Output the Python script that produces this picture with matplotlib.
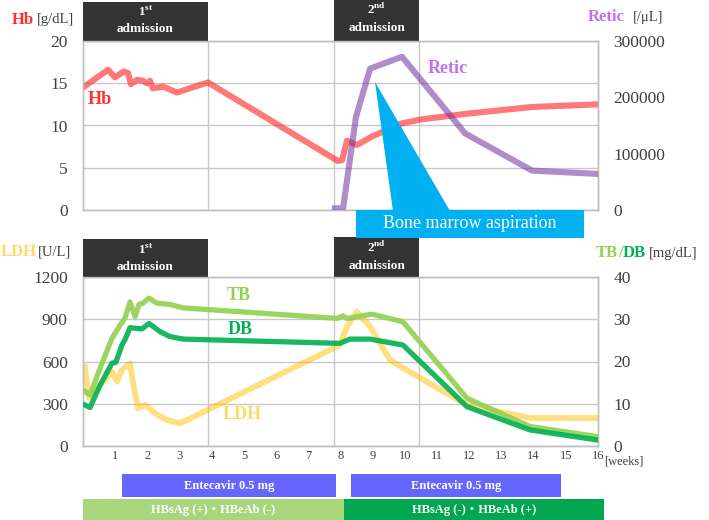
import matplotlib
matplotlib.use('Agg')
import matplotlib.pyplot as plt
from matplotlib.patches import Rectangle, Polygon
from matplotlib.transforms import blended_transform_factory

plt.rcParams['font.family'] = ['Liberation Serif', 'DejaVu Serif']
plt.rcParams['mathtext.fontset'] = 'custom'
plt.rcParams['mathtext.rm'] = 'Liberation Serif'
plt.rcParams['mathtext.bf'] = 'Liberation Serif:bold'

# ---------------- data (x in weeks) ----------------
hb_weeks = [0, 0.78, 0.99, 1.27, 1.40, 1.49, 1.68, 1.86, 1.99, 2.08, 2.17, 2.49, 2.92, 3.88,
            7.92, 8.05, 8.20, 8.51, 8.98, 9.85, 10.47, 11.93, 13.98, 16.0]
hb_values = [14.5, 16.6, 15.7, 16.4, 16.2, 14.9, 15.4, 15.3, 15.0, 15.3, 14.4, 14.6, 13.9, 15.1,
             5.8, 5.9, 8.2, 7.7, 8.7, 10.2, 10.7, 11.4, 12.2, 12.5]

retic_weeks = [7.83, 8.08, 8.48, 8.92, 9.91, 11.87, 13.95, 16.0]
retic_values = [3000, 3000, 165000, 251000, 272000, 136000, 70000, 64000]

tb_weeks = [0.06, 0.22, 0.53, 0.90, 1.15, 1.30, 1.46, 1.62, 1.74, 1.86, 2.05, 2.30, 2.70, 3.11,
            7.89, 8.08, 8.20, 8.98, 9.94, 11.93, 13.89, 16.0]
tb_values = [12.9, 12.1, 18.4, 25.5, 28.6, 30.2, 34.1, 30.6, 33.5, 33.8, 35.0, 33.8, 33.5, 32.7,
             30.2, 30.8, 30.2, 31.2, 29.4, 11.3, 4.6, 2.2]

db_weeks = [0.06, 0.22, 0.53, 0.90, 1.02, 1.21, 1.30, 1.46, 1.83, 2.05, 2.39, 2.70, 3.11,
            7.98, 8.29, 8.92, 9.94, 11.93, 13.89, 16.0]
db_values = [9.7, 9.1, 14.4, 19.6, 19.8, 23.9, 25.1, 28.0, 27.7, 29.0, 27.1, 25.9, 25.3,
             24.3, 25.3, 25.3, 23.9, 9.3, 3.8, 1.4]

ldh_weeks = [0.06, 0.19, 0.90, 1.06, 1.21, 1.46, 1.55, 1.71, 1.93, 2.24, 2.61, 3.01,
             7.98, 8.20, 8.51, 8.92, 9.54, 9.94, 11.93, 13.89, 16.0]
ldh_values = [563, 341, 528, 457, 540, 587, 457, 268, 291, 232, 185, 160,
              717, 847, 954, 847, 611, 554, 291, 199, 199]

admissions = [(0.0, 3.88, '1', 'st'), (7.80, 10.45, '2', 'nd')]
entecavir = [(1.21, 7.86), (8.32, 14.84)]
hbs_status = [(0.0, 8.10, 'HBsAg (+)・HBeAb (-)', '#A9D67C'),
              (8.10, 16.2, 'HBsAg (-)・HBeAb (+)', '#00A650')]
week_ticks = list(range(1, 17))
hb_ticks = [0, 5, 10, 15, 20]
retic_ticks = [0, 100000, 200000, 300000]
ldh_ticks = [0, 300, 600, 900, 1200]
tbdb_ticks = [0, 10, 20, 30, 40]

# ---------------- layout ----------------
W, H = 709, 520
fig = plt.figure(figsize=(W / 100, H / 100), dpi=100)


def fx(x):
    return x / W


def fy(y):
    return 1 - y / H


GRID = '#C8C8C8'
TXT = '#404040'

ax1 = fig.add_axes([fx(83), fy(210), (598 - 83) / W, 169 / H])
ax1r = ax1.twinx()
ax2 = fig.add_axes([fx(83), fy(446), (598 - 83) / W, 169 / H])
ax2r = ax2.twinx()

for ax in (ax1, ax1r, ax2, ax2r):
    ax.set_xlim(0, 16)
    for s in ax.spines.values():
        s.set_color('#BFBFBF')
        s.set_linewidth(1.0)
    ax.tick_params(length=0, labelsize=12.5, labelcolor=TXT, pad=11)

for ax in (ax1, ax2):
    ax.set_facecolor('none')
    ax.yaxis.grid(True, color=GRID, lw=1.0)
    for a0, a1, _, _ in admissions:
        for xv in (a0, a1):
            if xv > 0:
                ax.axvline(xv, color=GRID, lw=1.0, zorder=0)

# Top panel
ax1.set_ylim(0, 20)
ax1.set_yticks(hb_ticks)
ax1r.set_ylim(0, 300000)
ax1r.set_yticks(retic_ticks)
ax1r.set_yticklabels([str(t) for t in retic_ticks])
ax1.tick_params(axis='x', labelbottom=False)
ax1.plot(hb_weeks, hb_values, color='#FF2020', alpha=0.6, lw=4.4, solid_joinstyle='round', zorder=3)
ax1r.plot(retic_weeks, retic_values, color='#7030A0', alpha=0.55, lw=4.4, solid_joinstyle='round', zorder=3)
ax1.text(0.53, 13.1, 'Hb', color='#FF3030', fontsize=13, fontweight='bold', ha='center', va='center')
ax1.text(11.34, 16.8, 'Retic', color='#C070F0', fontsize=13, fontweight='bold', ha='center', va='center')

# Bottom panel
ax2.set_ylim(0, 1200)
ax2.set_yticks(ldh_ticks)
ax2r.set_ylim(0, 40)
ax2r.set_yticks(tbdb_ticks)
ax2.set_xticks(week_ticks)
ax2.set_xticklabels([str(t) for t in week_ticks])
ax2.tick_params(axis='x', labelsize=9, pad=3)
ax2.plot(ldh_weeks, ldh_values, color='#FFC000', alpha=0.5, lw=4.2, solid_joinstyle='round', zorder=3)
ax2r.plot(tb_weeks, tb_values, color='#92D050', alpha=0.9, lw=3.8, solid_joinstyle='round', zorder=3)
ax2r.plot(db_weeks, db_values, color='#00B050', alpha=0.9, lw=3.8, solid_joinstyle='round', zorder=3)
ax2.text(4.85, 1072, 'TB', color='#92D050', fontsize=13, fontweight='bold', ha='center', va='center')
ax2.text(4.87, 824, 'DB', color='#00B050', fontsize=13, fontweight='bold', ha='center', va='center')
ax2.text(4.94, 227, 'LDH', color='#FFD966', fontsize=13, fontweight='bold', ha='center', va='center')

# Admission header boxes
for ax, top, bot, ys in ((ax1, 2, 41, (12, 29)), (ax2, 239, 277, (250, 267))):
    tr = blended_transform_factory(ax.transData, fig.transFigure)
    for i, (a0, a1, num, sup) in enumerate(admissions):
        t = top if i == 0 else top - 2
        ax.add_patch(Rectangle((a0, fy(bot)), a1 - a0, (bot - t) / H, transform=tr,
                               facecolor='#333333', edgecolor='none', clip_on=False, zorder=5))
        xc = (a0 + a1) / 2
        ax.text(xc, fy(ys[0] - (0 if i == 0 else 3)), r'$\mathbf{%s}^{\mathbf{%s}}$' % (num, sup), transform=tr,
                color='white', fontsize=9.5, ha='center', va='center', zorder=6)
        ax.text(xc, fy(ys[1] - (0 if i == 0 else 1)), 'admission', transform=tr, color='white',
                fontsize=9.5, fontweight='bold', ha='center', va='center', zorder=6)

# Treatment / serology bars
trb = blended_transform_factory(ax2.transData, fig.transFigure)
for e0, e1 in entecavir:
    ax2.add_patch(Rectangle((e0, fy(497)), e1 - e0, 23 / H, transform=trb, facecolor='#6666FF',
                            edgecolor='none', clip_on=False))
    ax2.text((e0 + e1) / 2, fy(485.5), 'Entecavir 0.5 mg', transform=trb, color='white',
             fontsize=9, fontweight='bold', ha='center', va='center')
for s0, s1, lab, col in hbs_status:
    ax2.add_patch(Rectangle((s0, fy(520)), s1 - s0, 21 / H, transform=trb, facecolor=col,
                            edgecolor='none', clip_on=False))
    ax2.text((s0 + s1) / 2, fy(509.5), lab, transform=trb, color='white',
             fontsize=9, fontweight='bold', ha='center', va='center',
             family=['Liberation Serif', 'Noto Sans CJK JP', 'DejaVu Sans'])

# Bone marrow aspiration callout
fig.patches.append(Polygon([(fx(375), fy(82)), (fx(393), fy(211)), (fx(450), fy(211))],
                           closed=True, transform=fig.transFigure, facecolor='#00B0F0',
                           edgecolor='none', zorder=4))
fig.patches.append(Rectangle((fx(356), fy(238)), (584 - 356) / W, 28 / H, transform=fig.transFigure,
                             facecolor='#00B0F0', edgecolor='none', zorder=4))
fig.text(fx(470), fy(224), 'Bone marrow aspiration', color='white', fontsize=13,
         ha='center', va='center', zorder=5)

# Axis titles (chained pieces)
renderer = fig.canvas.get_renderer()


def chain(x, y, parts):
    cur = x
    for txt, col, size, bold, gap in parts:
        t = fig.text(fx(cur), fy(y), txt, color=col, fontsize=size,
                     fontweight='bold' if bold else 'normal', ha='left', va='center')
        bb = t.get_window_extent(renderer=renderer)
        cur = cur + bb.width + gap


chain(12, 20, [('Hb', '#FF3030', 12, True, 3), ('[g/dL]', TXT, 10.5, False, 0)])
chain(588, 17, [('Retic', '#C070F0', 12, True, 8), ('[/μL]', TXT, 10.5, False, 0)])
chain(1, 252, [('LDH', '#FFD966', 12, True, 1), ('[U/L]', TXT, 10.5, False, 0)])
chain(596, 253, [('TB', '#92D050', 12, True, 0), ('/', '#92D050', 12, True, 0),
                 ('DB', '#00B050', 12, True, 3), ('[mg/dL]', TXT, 10.5, False, 0)])
fig.text(fx(604), fy(462), '[weeks]', color=TXT, fontsize=9, ha='left', va='center')

fig.savefig('out.png', dpi=100)
